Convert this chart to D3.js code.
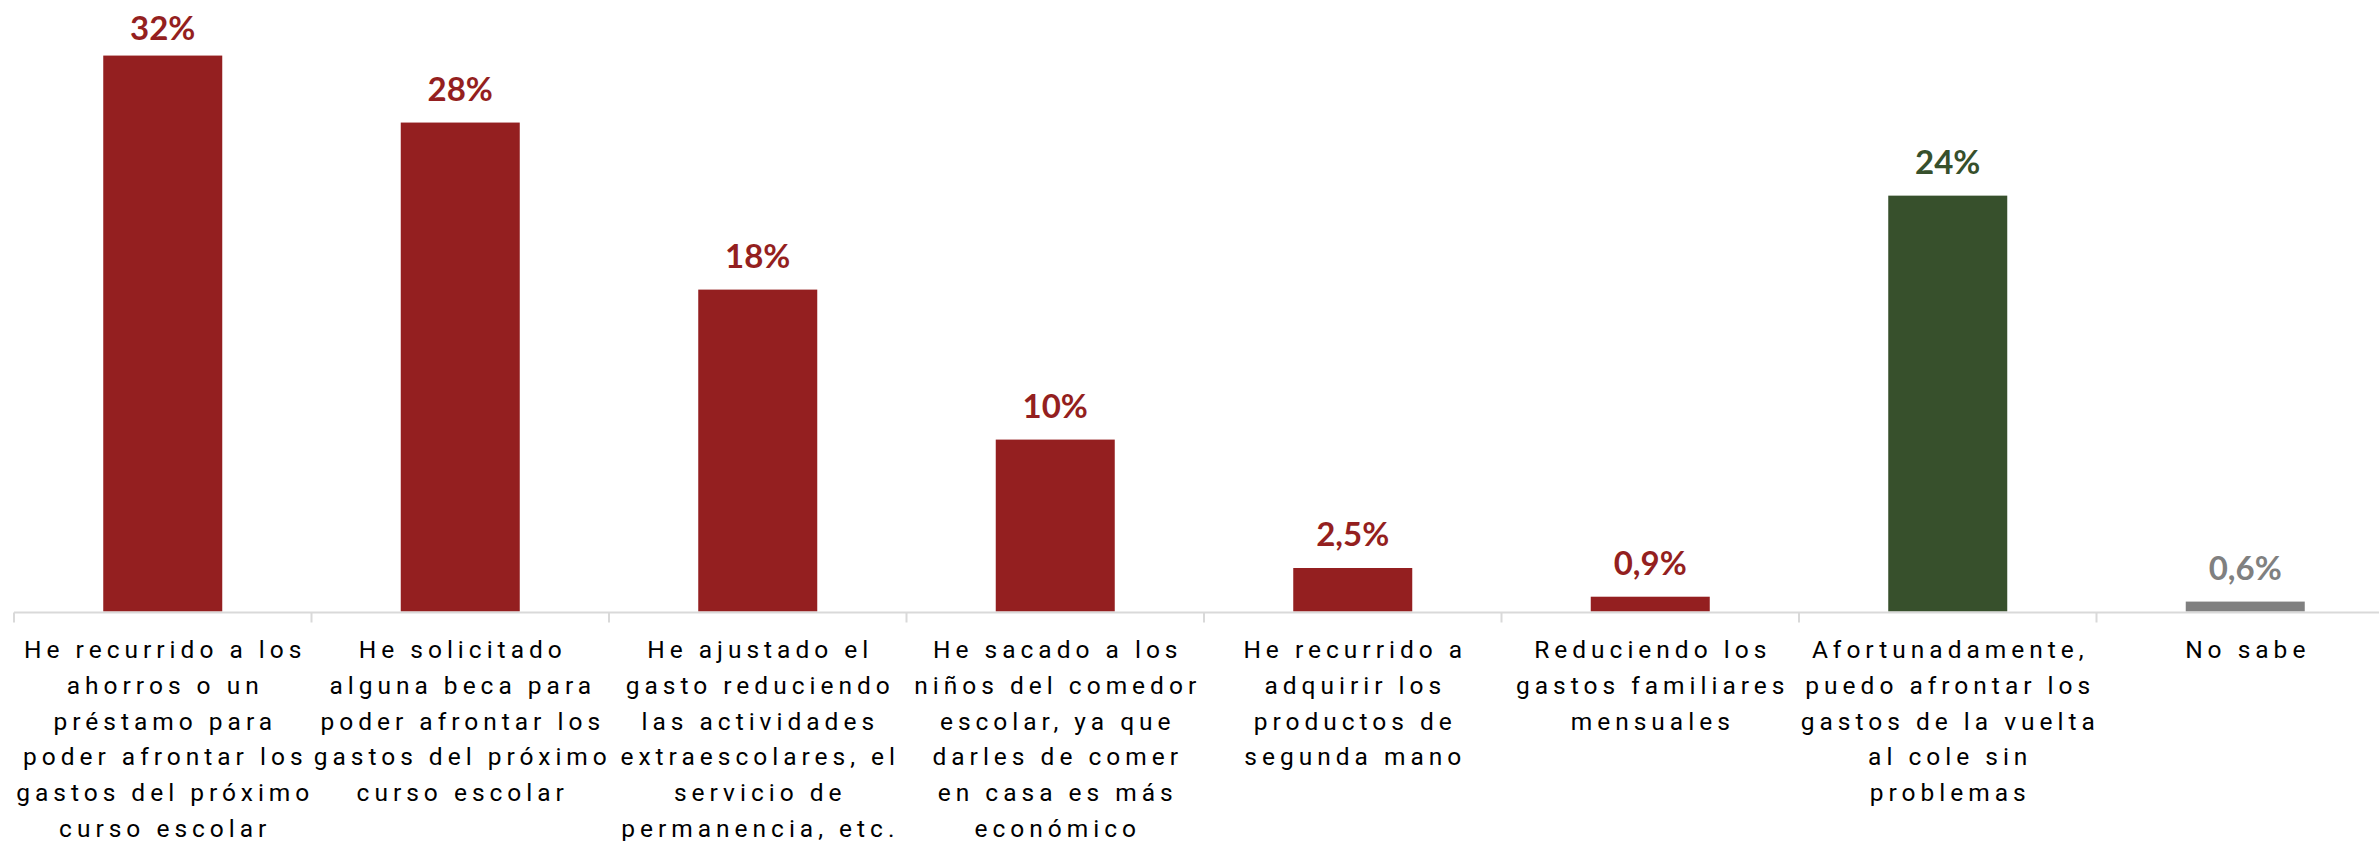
<!DOCTYPE html>
<html>
<head>
<meta charset="utf-8">
<script src="https://cdn.jsdelivr.net/npm/d3@7"></script>
<style>
  html, body { margin: 0; padding: 0; background: #ffffff; }
  svg { display: block; }
</style>
</head>
<body>
<svg id="chart" width="2379" height="841"></svg>
<script>
// ---- data ----
const categories = [
  "He recurrido a los ahorros o un préstamo para poder afrontar los gastos del próximo curso escolar",
  "He solicitado alguna beca para poder afrontar los gastos del próximo curso escolar",
  "He ajustado el gasto reduciendo las actividades extraescolares, el servicio de permanencia, etc.",
  "He sacado a los niños del comedor escolar, ya que darles de comer en casa es más económico",
  "He recurrido a adquirir los productos de segunda mano",
  "Reduciendo los gastos familiares mensuales",
  "Afortunadamente, puedo afrontar los gastos de la vuelta al cole sin problemas",
  "No sabe"
];
const categoryLines = [
  ["He recurrido a los", "ahorros o un", "préstamo para", "poder afrontar los", "gastos del próximo", "curso escolar"],
  ["He solicitado", "alguna beca para", "poder afrontar los", "gastos del próximo", "curso escolar"],
  ["He ajustado el", "gasto reduciendo", "las actividades", "extraescolares, el", "servicio de", "permanencia, etc."],
  ["He sacado a los", "niños del comedor", "escolar, ya que", "darles de comer", "en casa es más", "económico"],
  ["He recurrido a", "adquirir los", "productos de", "segunda mano"],
  ["Reduciendo los", "gastos familiares", "mensuales"],
  ["Afortunadamente,", "puedo afrontar los", "gastos de la vuelta", "al cole sin", "problemas"],
  ["No sabe"]
];
const values = [31.95, 28.1, 18.5, 9.88, 2.5, 0.85, 23.9, 0.57];
const valueLabels = ["32%", "28%", "18%", "10%", "2,5%", "0,9%", "24%", "0,6%"];
const groups = ["neg", "neg", "neg", "neg", "neg", "neg", "pos", "ns"];

// ---- styles ----
const colors = { neg: "#941f20", pos: "#37502c", ns: "#808080" };

const svg = d3.select("#chart");
const baseY = 611.5;
const x = d3.scaleBand()
  .domain(categories)
  .range([14, 14 + 8 * 297.5])
  .paddingInner(0.6)
  .paddingOuter(0.3);
const y = d3.scaleLinear().domain([0, 35]).range([baseY, baseY - 35 * 17.4]);
const step = x.step();

// bars
svg.append("g").selectAll("rect")
  .data(categories)
  .join("rect")
  .attr("x", d => x(d))
  .attr("width", x.bandwidth())
  .attr("y", (d, i) => y(values[i]))
  .attr("height", (d, i) => y(0) - y(values[i]))
  .attr("fill", (d, i) => colors[groups[i]]);

// axis line
svg.append("line")
  .attr("x1", x.range()[0]).attr("x2", x.range()[1])
  .attr("y1", baseY + 1).attr("y2", baseY + 1)
  .attr("stroke", "#d9d9d9").attr("stroke-width", 2);

// ticks at category boundaries
const boundaries = d3.range(categories.length + 1).map(i => x.range()[0] + i * step);
svg.append("g").selectAll("line")
  .data(boundaries)
  .join("line")
  .attr("x1", d => d).attr("x2", d => d)
  .attr("y1", baseY + 1).attr("y2", baseY + 11)
  .attr("stroke", "#d9d9d9").attr("stroke-width", 2);

// value labels
svg.append("g").selectAll("text")
  .data(categories)
  .join("text")
  .attr("x", d => x(d) + x.bandwidth() / 2)
  .attr("y", (d, i) => Math.max(y(values[i]) - 22, 39.5))
  .attr("text-anchor", "middle")
  .attr("font-family", "Lato, sans-serif")
  .attr("font-weight", "bold")
  .attr("font-size", 33)
  .attr("fill", (d, i) => colors[groups[i]])
  .text((d, i) => valueLabels[i]);

// category labels
const catG = svg.append("g");
categories.forEach((c, i) => {
  const cx = x(c) + x.bandwidth() / 2;
  const t = catG.append("text")
    .attr("x", cx)
    .attr("y", 658)
    .attr("text-anchor", "middle")
    .attr("font-family", "Roboto, sans-serif")
    .attr("font-size", 24.5)
    .attr("letter-spacing", 5.0)
    .attr("fill", "#000000");
  categoryLines[i].forEach((ln, j) => {
    t.append("tspan")
      .attr("x", cx + 2.5)
      .attr("y", 658 + j * 35.8)
      .text(ln);
  });
});
</script>
</body>
</html>
